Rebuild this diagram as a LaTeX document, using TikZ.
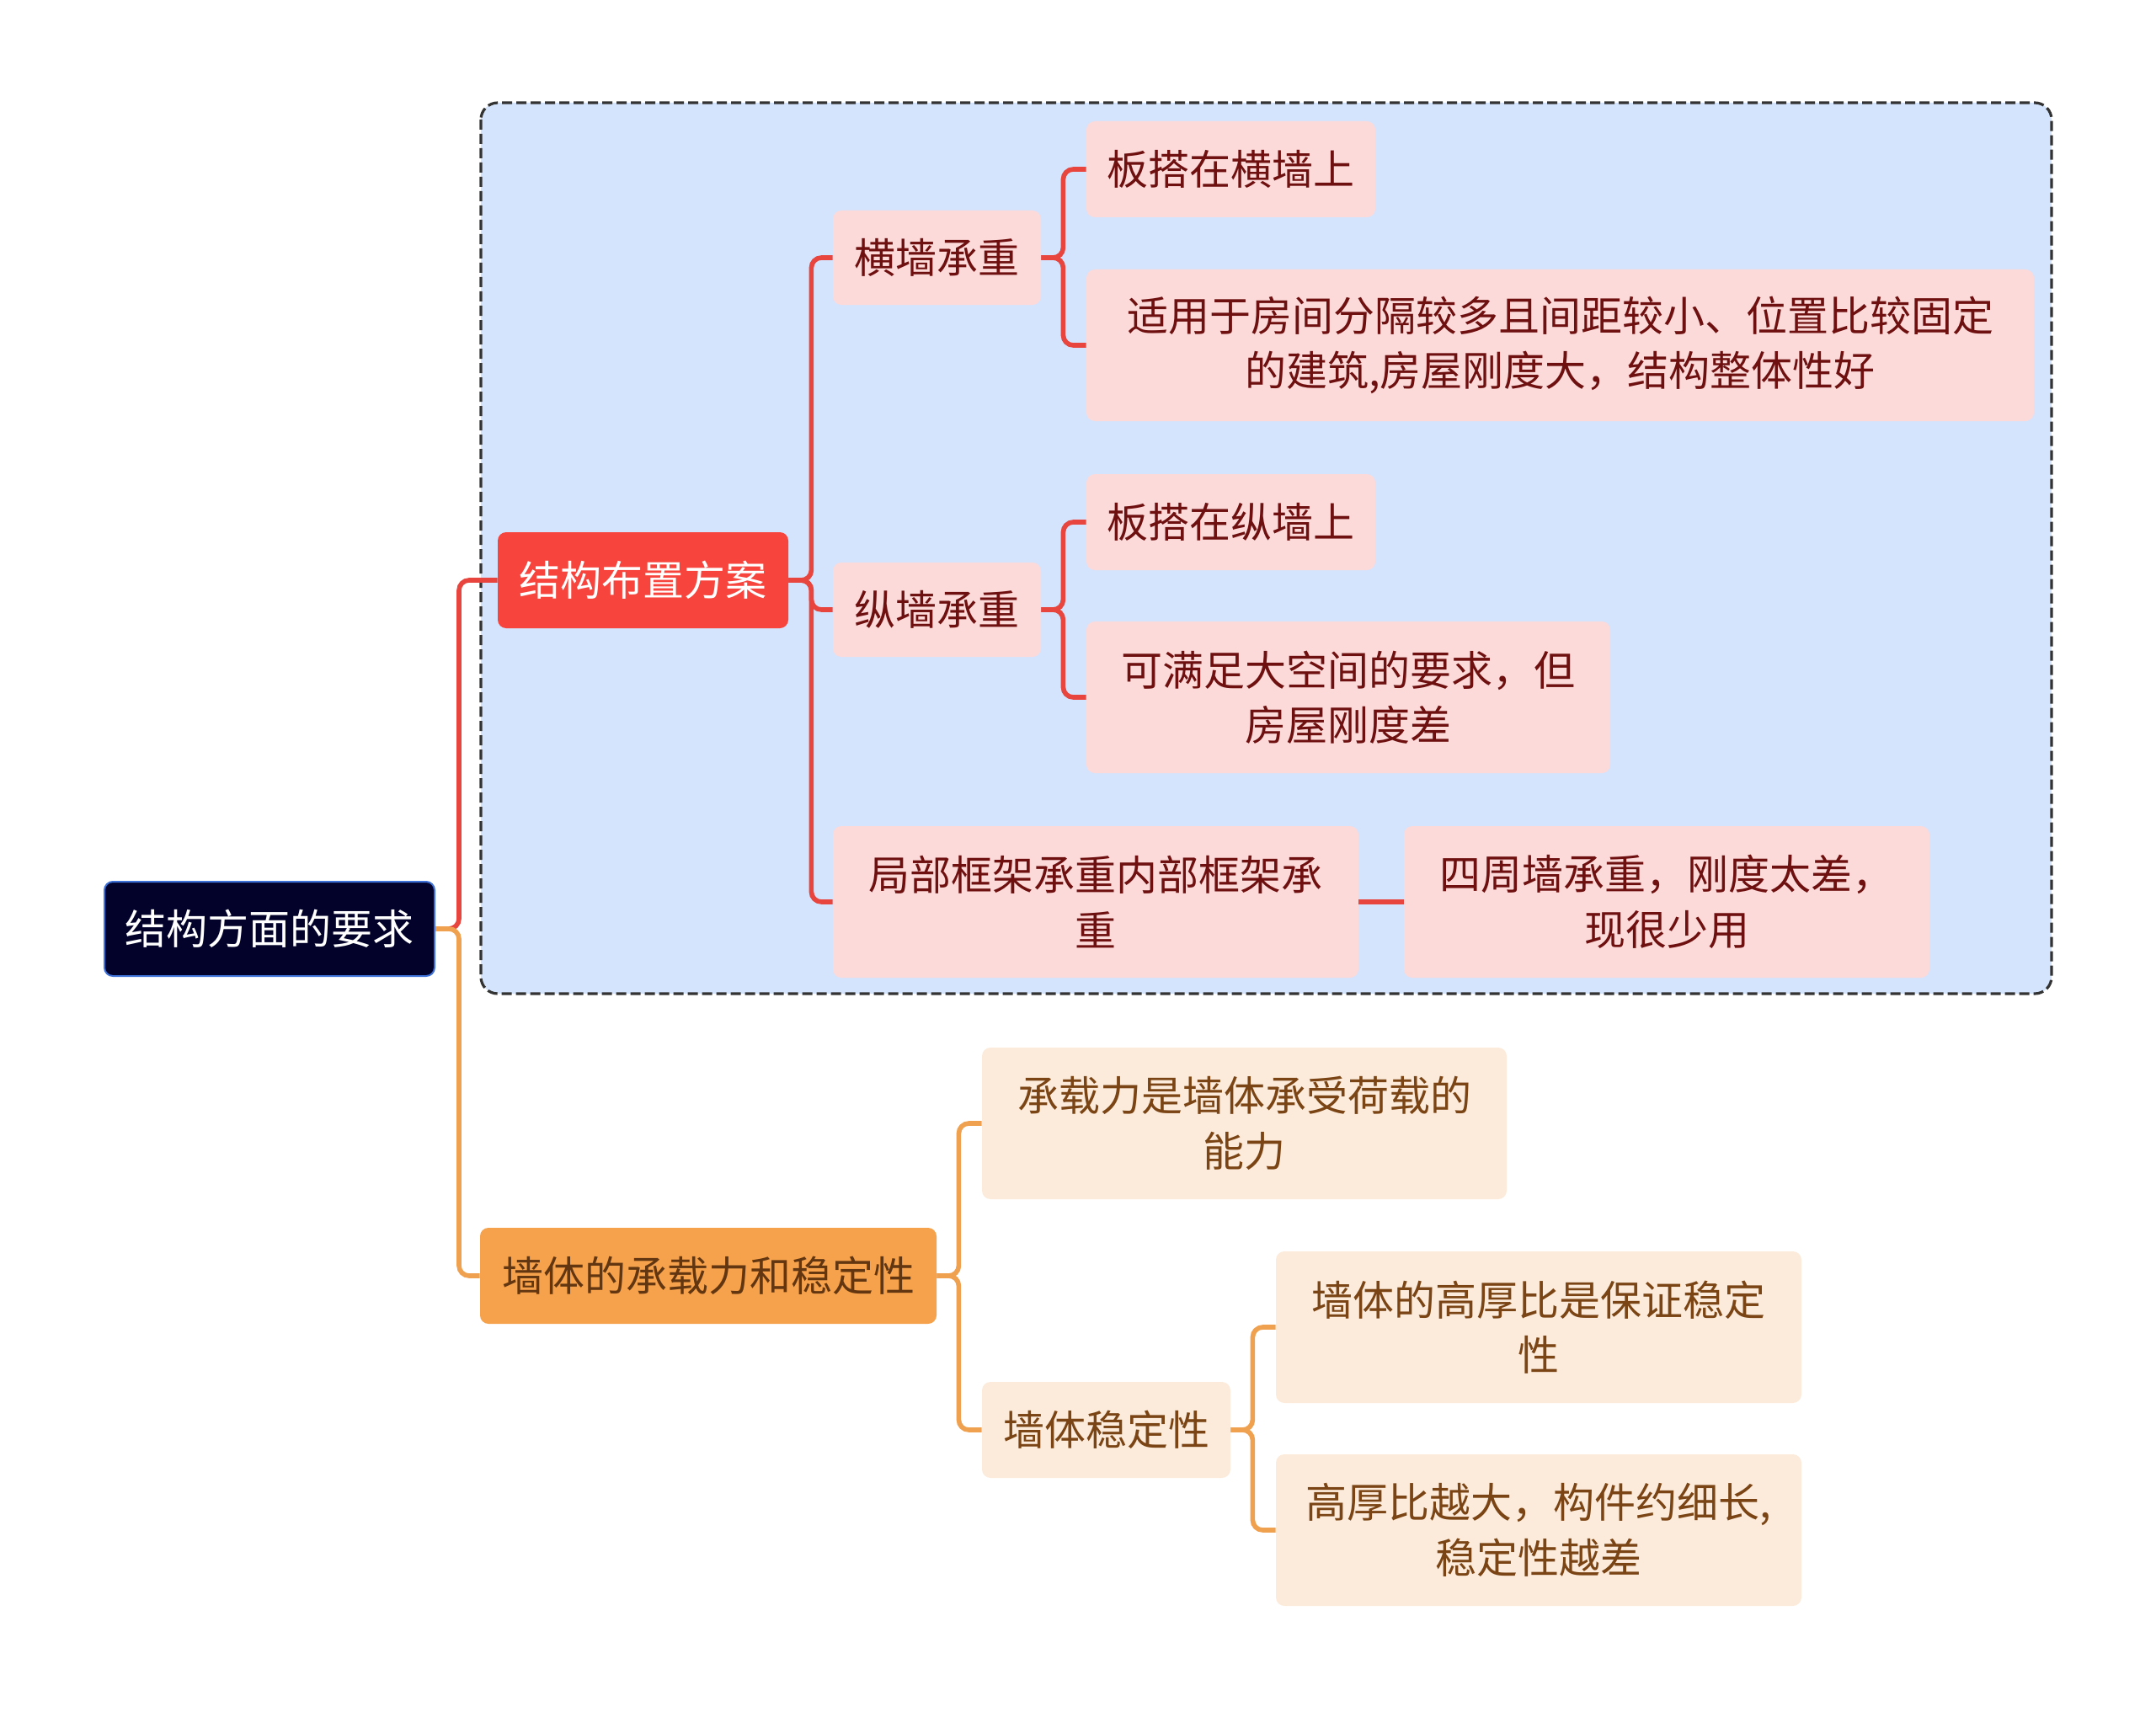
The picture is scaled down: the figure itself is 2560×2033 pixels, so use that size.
\documentclass[tikz,border=0pt]{standalone}
\usepackage{fontspec}
\setmainfont{Noto Sans CJK SC}
\definecolor{rootfill}{HTML}{02022A}
\definecolor{rootline}{HTML}{3F72D8}
\definecolor{framefill}{HTML}{D4E4FC}
\definecolor{redmain}{HTML}{F7443C}
\definecolor{redline}{HTML}{E8453E}
\definecolor{pinkfill}{HTML}{FDDADA}
\definecolor{redtext}{HTML}{6E1010}
\definecolor{orangemain}{HTML}{F6A14B}
\definecolor{orangeline}{HTML}{F0A150}
\definecolor{peachfill}{HTML}{FCEBDB}
\definecolor{browntext}{HTML}{7A4414}
\tikzset{
  topic/.style={rounded corners=5pt, inner sep=0pt, align=center,
    font=\fontsize{24.5}{32.7}\selectfont},
  size/.style 2 args={minimum width=#1, minimum height=#2},
  rootbox/.style={topic, fill=rootfill, draw=rootline, line width=1pt, text=white},
  redbox/.style={topic, fill=redmain, text=white},
  pinkbox/.style={topic, fill=pinkfill, text=redtext},
  orangebox/.style={topic, fill=orangemain, text=browntext!80!black},
  peachbox/.style={topic, fill=peachfill, text=browntext},
  redlink/.style={draw=redline, line width=2.8pt, rounded corners=6pt},
  orangelink/.style={draw=orangeline, line width=2.8pt, rounded corners=6pt}
}
\begin{document}
\begin{tikzpicture}[x=0.5pt,y=-0.5pt]
    \useasboundingbox (0,0) rectangle (2560,2033);
    % dashed frame round the first branch
    \draw[fill=framefill, draw=black!80, line width=1.6pt, dash pattern=on 6pt off 2.5pt, rounded corners=10pt]
      (571,122) rectangle (2436,1180);
    % root
    \node[rootbox, size={196pt}{56pt}] (root) at (320,1103) {结构方面的要求};
    % first branch
    \node[redbox, size={172.5pt}{57pt}] (plan) at (763.5,689) {结构布置方案};
    \node[pinkbox, size={123.5pt}{56pt}] (heng) at (1112.5,306) {横墙承重};
    \node[pinkbox, size={171.5pt}{57pt}] (hengA) at (1461.5,201) {板搭在横墙上};
    \node[pinkbox, size={562.5pt}{90pt}] (hengB) at (1852.5,410)
      {适用于房间分隔较多且间距较小、位置比较固定\\的建筑,房屋刚度大，结构整体性好};
    \node[pinkbox, size={123.5pt}{56pt}] (zong) at (1112.5,724) {纵墙承重};
    \node[pinkbox, size={171.5pt}{57pt}] (zongA) at (1461.5,620) {板搭在纵墙上};
    \node[pinkbox, size={311pt}{90pt}] (zongB) at (1601,828) {可满足大空间的要求，但\\房屋刚度差};
    \node[pinkbox, size={312pt}{90pt}] (part) at (1301,1071) {局部框架承重内部框架承\\重};
    \node[pinkbox, size={312pt}{90pt}] (partA) at (1979,1071) {四周墙承重，刚度太差，\\现很少用};
    % second branch
    \node[orangebox, size={271pt}{57pt}] (wall) at (841,1515) {墙体的承载力和稳定性};
    \node[peachbox, size={311.5pt}{90pt}] (wallA) at (1477.5,1334) {承载力是墙体承受荷载的\\能力};
    \node[peachbox, size={147.5pt}{57pt}] (stab) at (1313.5,1698) {墙体稳定性};
    \node[peachbox, size={312pt}{90pt}] (stabA) at (1827,1576) {墙体的高厚比是保证稳定\\性};
    \node[peachbox, size={312pt}{90pt}] (stabB) at (1827,1817) {高厚比越大，构件约细长,\\稳定性越差};
    % connectors
    \draw[redlink] (root.east) -- ++(28,0) |- (plan.west);
    \draw[orangelink] (root.east) -- ++(28,0) |- (wall.west);
    \foreach \c in {heng,zong,part} {\draw[redlink] (plan.east) -- ++(27,0) |- (\c.west);}
    \foreach \c in {hengA,hengB} {\draw[redlink] (heng.east) -- ++(26,0) |- (\c.west);}
    \foreach \c in {zongA,zongB} {\draw[redlink] (zong.east) -- ++(26,0) |- (\c.west);}
    \draw[redlink] (part.east) -- (partA.west);
    \foreach \c in {wallA,stab} {\draw[orangelink] (wall.east) -- ++(26,0) |- (\c.west);}
    \foreach \c in {stabA,stabB} {\draw[orangelink] (stab.east) -- ++(26,0) |- (\c.west);}
  \end{tikzpicture}
\end{document}
